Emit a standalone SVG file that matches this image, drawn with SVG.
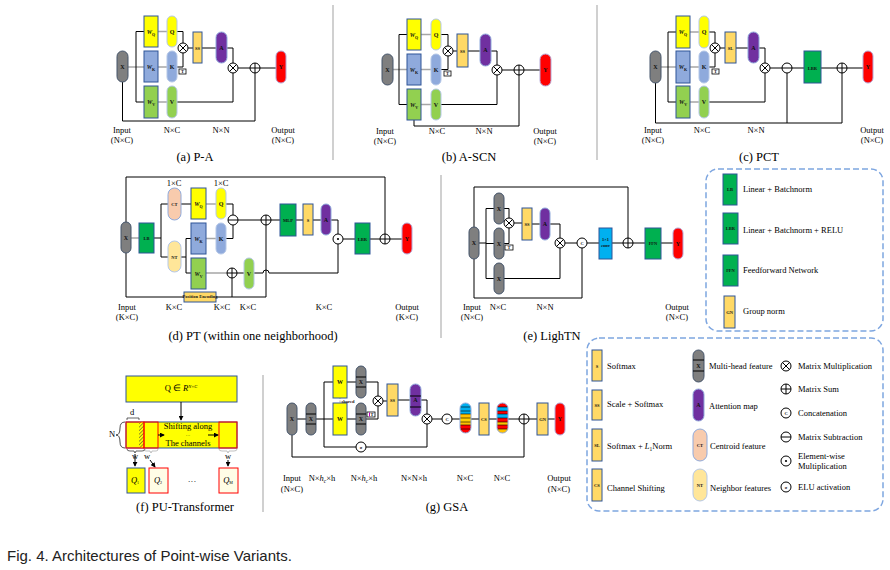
<svg xmlns="http://www.w3.org/2000/svg" width="890" height="570" viewBox="0 0 890 570">
<style>
.ln{fill:none;stroke:#000;stroke-width:1}
.gl{fill:none;stroke:#a6a6a6;stroke-width:1.5}
.t{font-family:"Liberation Serif",serif;font-size:8.5px;fill:#000;text-anchor:middle}
.lt{font-family:"Liberation Serif",serif;font-size:8.5px;fill:#000}
.cap{font-family:"Liberation Serif",serif;font-size:12.5px;fill:#000;text-anchor:middle}
.nl{font-family:"Liberation Serif",serif;font-size:6px;font-weight:bold;fill:#111;text-anchor:middle}
.sm{font-family:"Liberation Serif",serif;font-size:4.5px;font-weight:bold;fill:#111;text-anchor:middle}
.gray{fill:#7f7f7f;stroke:#44546a;stroke-width:1}
.yel{fill:#ffff00;stroke:#2f5597;stroke-width:1}
.ylp{fill:#ffff00;stroke:#b4c7e7;stroke-width:1}
.blu{fill:#8faadc;stroke:#2f5597;stroke-width:1}
.blp{fill:#8faadc;stroke:#b4c7e7;stroke-width:1}
.grn{fill:#92d050;stroke:#2f5597;stroke-width:1}
.grp{fill:#92d050;stroke:#b4c7e7;stroke-width:1}
.org{fill:#ffd966;stroke:#2f5597;stroke-width:1}
.pur{fill:#7030a0;stroke:#8faadc;stroke-width:1}
.red{fill:#ff0000;stroke:#b4a7d6;stroke-width:1}
.dg{fill:#00b050;stroke:#2f5597;stroke-width:1}
.ct{fill:#f8cbad;stroke:#8faadc;stroke-width:1}
.nt{fill:#ffe699;stroke:#b4c7e7;stroke-width:1}
.op{fill:#fff;stroke:#000;stroke-width:1}
.sep{stroke:#c0c0c0;stroke-width:1.5}
.dash{fill:none;stroke:#7ea6e0;stroke-width:1.5;stroke-dasharray:6 3}
.tb{fill:#fff;stroke:#000;stroke-width:0.8}
</style>
<defs>
<g id="mul"><circle r="5" class="op"/><path d="M-3.5,-3.5L3.5,3.5M-3.5,3.5L3.5,-3.5" class="ln"/></g>
<g id="sum"><circle r="5" class="op"/><path d="M-5,0H5M0,-5V5" class="ln"/></g>
<g id="sub"><circle r="5" class="op"/><path d="M-5,0H5" class="ln"/></g>
<g id="dot"><circle r="5" class="op"/><circle r="1.1" fill="#000"/></g>
<g id="cat"><circle r="5" class="op"/><text y="2.3" class="sm" font-size="6px">C</text></g>
<g id="elu"><circle r="5" class="op"/><text y="2" class="sm" font-size="6.5px">σ</text></g>
<marker id="ar" viewBox="0 0 6 6" refX="5" refY="3" markerWidth="5" markerHeight="5" orient="auto"><path d="M0,0L6,3L0,6z" fill="#000"/></marker>
<pattern id="hatch" width="2.5" height="2.5" patternUnits="userSpaceOnUse" patternTransform="rotate(45)"><rect width="2.5" height="2.5" fill="#ffff00"/><line x1="0" y1="0" x2="0" y2="2.5" stroke="#333" stroke-width="1"/></pattern>
<clipPath id="pill1"><rect x="460" y="403" width="11" height="30" rx="5.5"/></clipPath>
<clipPath id="pill2"><rect x="497" y="403" width="11" height="30" rx="5.5"/></clipPath>
</defs>

<!-- separators -->
<g id="separators">
<line x1="333" y1="5" x2="333" y2="160" class="sep"/>
<line x1="597" y1="5" x2="597" y2="160" class="sep"/>
<line x1="441" y1="175" x2="441" y2="338" class="sep"/>
<line x1="263" y1="375" x2="263" y2="512" class="sep"/>
</g>

<!-- ============ (a) P-A ============ -->
<g id="a-connectors">
<path d="M128,67H144M158,31.5H167M158,67H167M158,102H167" class="gl"/>
<path d="M136,31.5V102M136,31.5H144M136,102H144M177,31.5H183V43M177,67H183V53M188,48H193M202,48H216M227,48H233V63M177,102H233V73M238,68H250M260,68H276M122.5,82V121H255V73" class="ln"/>
</g>
<g id="a-X"><rect x="117" y="51" width="11" height="31" rx="5.5" class="gray"/><text x="122.5" y="69" class="nl">X</text></g>
<g id="a-WQ"><rect x="144" y="16" width="14" height="31" class="yel"/><text x="151" y="34" class="nl"><tspan font-style="italic">W</tspan><tspan font-size="4" dy="1.5">Q</tspan></text></g>
<g id="a-Q"><rect x="167" y="16" width="10" height="31" rx="5" class="ylp"/><text x="172" y="34" class="nl">Q</text></g>
<g id="a-WK"><rect x="144" y="51" width="14" height="31" class="blu"/><text x="151" y="69" class="nl"><tspan font-style="italic">W</tspan><tspan font-size="4" dy="1.5">K</tspan></text></g>
<g id="a-K"><rect x="167" y="51" width="10" height="31" rx="5" class="blp"/><text x="172" y="69" class="nl">K</text></g>
<g id="a-WV"><rect x="144" y="86" width="14" height="32" class="grn"/><text x="151" y="104" class="nl"><tspan font-style="italic">W</tspan><tspan font-size="4" dy="1.5">V</tspan></text></g>
<g id="a-V"><rect x="167" y="86" width="10" height="32" rx="5" class="grp"/><text x="172" y="104" class="nl">V</text></g>
<g id="a-T"><rect x="179" y="69" width="7" height="5" class="tb"/><text x="182.5" y="73.3" class="sm">T</text></g>
<g id="a-mul1"><use href="#mul" x="183" y="48"/></g>
<g id="a-SS"><rect x="193" y="32" width="9" height="31" class="org"/><text x="197.5" y="50" class="sm">SS</text></g>
<g id="a-A"><rect x="216" y="32" width="11" height="31" rx="5.5" class="pur"/><text x="221.5" y="50" class="nl">A</text></g>
<g id="a-mul2"><use href="#mul" x="233" y="68"/></g>
<g id="a-sum"><use href="#sum" x="255" y="68"/></g>
<g id="a-Y"><rect x="276" y="51" width="10" height="32" rx="5" class="red"/><text x="281" y="69" class="nl">Y</text></g>
<g id="a-labels">
<text x="122" y="133" class="t">Input</text><text x="122" y="143" class="t">(N×C)</text>
<text x="172" y="133" class="t">N×C</text><text x="221" y="133" class="t">N×N</text>
<text x="283" y="133" class="t">Output</text><text x="283" y="143" class="t">(N×C)</text>
<text x="195" y="161" class="cap">(a) P-A</text>
</g>

<!-- ============ (b) A-SCN ============ -->
<g id="b-connectors">
<path d="M393,69.5H407M421,34.5H431M421,69.5H431M421,104.5H431" class="gl"/>
<path d="M399,34.5V104.5M399,34.5H407M399,104.5H407M441,34.5H448V46M441,69.5H448V56M453,51H457M468,51H480M491,51H497V65M441,104.5H497V75M502,70H514M524,70H540M414,120V126H519V75" class="ln"/>
</g>
<g id="b-X"><rect x="382" y="54" width="11" height="31" rx="5.5" class="gray"/><text x="387.5" y="71.5" class="nl">X</text></g>
<g id="b-WQ"><rect x="407" y="19" width="14" height="31" class="yel"/><text x="414" y="37" class="nl"><tspan font-style="italic">W</tspan><tspan font-size="4" dy="1.5">Q</tspan></text></g>
<g id="b-Q"><rect x="431" y="19" width="10" height="31" rx="5" class="ylp"/><text x="436" y="37" class="nl">Q</text></g>
<g id="b-WK"><rect x="407" y="54" width="14" height="31" class="blu"/><text x="414" y="72" class="nl"><tspan font-style="italic">W</tspan><tspan font-size="4" dy="1.5">K</tspan></text></g>
<g id="b-K"><rect x="431" y="54" width="10" height="31" rx="5" class="blp"/><text x="436" y="72" class="nl">K</text></g>
<g id="b-WV"><rect x="407" y="89" width="14" height="31" class="grn"/><text x="414" y="107" class="nl"><tspan font-style="italic">W</tspan><tspan font-size="4" dy="1.5">V</tspan></text></g>
<g id="b-V"><rect x="431" y="89" width="10" height="31" rx="5" class="grp"/><text x="436" y="107" class="nl">V</text></g>
<g id="b-T"><rect x="444" y="71" width="7" height="5" class="tb"/><text x="447.5" y="75.3" class="sm">T</text></g>
<g id="b-mul1"><use href="#mul" x="448" y="51"/></g>
<g id="b-SS"><rect x="457" y="34" width="11" height="33" class="org"/><text x="462.5" y="52.5" class="sm">SS</text></g>
<g id="b-A"><rect x="480" y="34" width="11" height="32" rx="5.5" class="pur"/><text x="485.5" y="52" class="nl">A</text></g>
<g id="b-mul2"><use href="#mul" x="497" y="70"/></g>
<g id="b-sum"><use href="#sum" x="519" y="70"/></g>
<g id="b-Y"><rect x="540" y="54" width="11" height="32" rx="5.5" class="red"/><text x="545.5" y="72" class="nl">Y</text></g>
<g id="b-labels">
<text x="385" y="134" class="t">Input</text><text x="385" y="144" class="t">(N×C)</text>
<text x="437" y="134" class="t">N×C</text><text x="484" y="134" class="t">N×N</text>
<text x="545" y="134" class="t">Output</text><text x="545" y="144" class="t">(N×C)</text>
<text x="469" y="161" class="cap">(b) A-SCN</text>
</g>

<!-- ============ (c) PCT ============ -->
<g id="c-connectors">
<path d="M661,67H676M690,32H699M690,67H699M690,102H699" class="gl"/>
<path d="M668,32V102M668,32H676M668,102H676M709,32H715V43M709,67H715V53M720,48H725M736,48H748M759,48H765V63M709,102H765V73M770,68H782M792,68H804M821,68H837M847,68H863M655.5,83V123H842V73M787,123V73" class="ln"/>
</g>
<g id="c-X"><rect x="650" y="51" width="11" height="32" rx="5.5" class="gray"/><text x="655.5" y="69" class="nl">X</text></g>
<g id="c-WQ"><rect x="676" y="16" width="14" height="32" class="yel"/><text x="683" y="34" class="nl"><tspan font-style="italic">W</tspan><tspan font-size="4" dy="1.5">Q</tspan></text></g>
<g id="c-Q"><rect x="699" y="16" width="10" height="32" rx="5" class="ylp"/><text x="704" y="34" class="nl">Q</text></g>
<g id="c-WK"><rect x="676" y="51" width="14" height="32" class="blu"/><text x="683" y="69" class="nl"><tspan font-style="italic">W</tspan><tspan font-size="4" dy="1.5">K</tspan></text></g>
<g id="c-K"><rect x="699" y="51" width="10" height="32" rx="5" class="blp"/><text x="704" y="69" class="nl">K</text></g>
<g id="c-WV"><rect x="676" y="86" width="14" height="32" class="grn"/><text x="683" y="104" class="nl"><tspan font-style="italic">W</tspan><tspan font-size="4" dy="1.5">V</tspan></text></g>
<g id="c-V"><rect x="699" y="86" width="10" height="32" rx="5" class="grp"/><text x="704" y="104" class="nl">V</text></g>
<g id="c-T"><rect x="712" y="69" width="7" height="5" class="tb"/><text x="715.5" y="73.3" class="sm">T</text></g>
<g id="c-mul1"><use href="#mul" x="715" y="48"/></g>
<g id="c-SL"><rect x="725" y="32" width="11" height="31" class="org"/><text x="730.5" y="50" class="sm">SL</text></g>
<g id="c-A"><rect x="748" y="32" width="11" height="31" rx="5.5" class="pur"/><text x="753.5" y="50" class="nl">A</text></g>
<g id="c-mul2"><use href="#mul" x="765" y="68"/></g>
<g id="c-sub"><use href="#sub" x="787" y="68"/></g>
<g id="c-LBR"><rect x="804" y="51" width="17" height="32" class="dg"/><text x="812.5" y="69.5" class="sm">LBR</text></g>
<g id="c-sum"><use href="#sum" x="842" y="68"/></g>
<g id="c-Y"><rect x="863" y="51" width="10" height="32" rx="5" class="red"/><text x="868" y="69" class="nl">Y</text></g>
<g id="c-labels">
<text x="653" y="133" class="t">Input</text><text x="653" y="143" class="t">(N×C)</text>
<text x="702" y="133" class="t">N×C</text><text x="756" y="133" class="t">N×N</text>
<text x="872" y="133" class="t">Output</text><text x="872" y="143" class="t">(N×C)</text>
<text x="759" y="161" class="cap">(c) PCT</text>
</g>

<!-- ============ (d) PT ============ -->
<g id="d-connectors">
<path d="M131,238H139M206,204H216M206,238.5H216M206,273H227" class="gl"/>
<path d="M154,238H161M161,204V257M161,204H168M161,257H168M181,204H191M226,204H233V215M226,238.5H233V225M181,257H186M186,238.5V273M186,238.5H191M186,273H191M237,273H244M254,273H263A3,3 0 0 1 269,273H338V244M238,220H261M271,220H280M296,220H303M313,220H321M331,220H338V234M343,239H355M370,239H380M390,239H402M126,222V177H385V234M126,253V297H266V225M232,278V297" class="ln"/>
</g>
<g id="d-X"><rect x="121" y="222" width="10" height="31" rx="5" class="gray"/><text x="126" y="240" class="nl">X</text></g>
<g id="d-LB"><rect x="139" y="223" width="15" height="30" class="dg"/><text x="146.5" y="240" class="sm">LB</text></g>
<g id="d-CT"><rect x="168" y="188" width="13" height="32" rx="6.5" class="ct"/><text x="174.5" y="206" class="sm">CT</text></g>
<g id="d-NT"><rect x="168" y="241" width="13" height="31" rx="6.5" class="nt"/><text x="174.5" y="258.5" class="sm">NT</text></g>
<g id="d-WQ"><rect x="191" y="188" width="15" height="31" class="yel"/><text x="198.5" y="206" class="nl"><tspan font-style="italic">W</tspan><tspan font-size="4" dy="1.5">Q</tspan></text></g>
<g id="d-Q"><rect x="216" y="188" width="10" height="31" rx="5" class="ylp"/><text x="221" y="206" class="nl">Q</text></g>
<g id="d-WK"><rect x="191" y="223" width="15" height="31" class="blu"/><text x="198.5" y="241" class="nl"><tspan font-style="italic">W</tspan><tspan font-size="4" dy="1.5">K</tspan></text></g>
<g id="d-K"><rect x="216" y="223" width="10" height="31" rx="5" class="blp"/><text x="221" y="241" class="nl">K</text></g>
<g id="d-WV"><rect x="191" y="258" width="15" height="31" class="grn"/><text x="198.5" y="276" class="nl"><tspan font-style="italic">W</tspan><tspan font-size="4" dy="1.5">V</tspan></text></g>
<g id="d-V"><rect x="244" y="258" width="10" height="31" rx="5" class="grp"/><text x="249" y="275.5" class="nl">V</text></g>
<g id="d-sub"><use href="#sub" x="233" y="220"/></g>
<g id="d-sumv"><use href="#sum" x="232" y="273"/></g>
<g id="d-PE"><rect x="184" y="292" width="32" height="10" class="org"/><text x="200" y="298.3" class="sm" font-size="3.4px">Position Encoding</text></g>
<g id="d-sum1"><use href="#sum" x="266" y="220"/></g>
<g id="d-MLP"><rect x="280" y="204" width="16" height="32" class="dg"/><text x="288" y="222" class="sm">MLP</text></g>
<g id="d-S"><rect x="303" y="204" width="10" height="31" class="org"/><text x="308" y="221.5" class="sm">S</text></g>
<g id="d-A"><rect x="321" y="204" width="10" height="31" rx="5" class="pur"/><text x="326" y="221.5" class="nl">A</text></g>
<g id="d-dot"><use href="#dot" x="338" y="239"/></g>
<g id="d-LBR"><rect x="355" y="223" width="15" height="31" class="dg"/><text x="362.5" y="240.5" class="sm">LBR</text></g>
<g id="d-sum2"><use href="#sum" x="385" y="239"/></g>
<g id="d-Y"><rect x="402" y="223" width="10" height="31" rx="5" class="red"/><text x="407" y="241" class="nl">Y</text></g>
<g id="d-labels">
<text x="174" y="186" class="t" font-size="8px">1×C</text><text x="221" y="186" class="t" font-size="8px">1×C</text>
<text x="127" y="310" class="t">Input</text><text x="127" y="320" class="t">(K×C)</text>
<text x="174" y="310" class="t">K×C</text><text x="222" y="310" class="t">K×C</text><text x="248" y="310" class="t">K×C</text><text x="324" y="310" class="t">K×C</text>
<text x="407" y="310" class="t">Output</text><text x="407" y="320" class="t">(K×C)</text>
<text x="253" y="340" class="cap">(d) PT (within one neighborhood)</text>
</g>

<!-- ============ (e) LighTN ============ -->
<g id="e-connectors">
<path d="M474,227V187H628V238M479,243H486M486,208.5V278.5M486,208.5H494M486,243.5H494M486,278.5H494M504,208.5H509V218M504,243.5H509V228M514,223H522M532,224H540M550,224H560V238M504,278.5H560V248M565,243H577M587,243H599M612,243H623M633,243H645M661,243H673M474,259V298H582V248" class="ln"/>
</g>
<g id="e-Xin"><rect x="469" y="227" width="10" height="32" rx="5" class="gray"/><text x="474" y="245" class="nl">X</text></g>
<g id="e-X1"><rect x="494" y="193" width="10" height="31" rx="5" class="gray"/><text x="499" y="210.5" class="nl">X</text></g>
<g id="e-X2"><rect x="494" y="228" width="10" height="31" rx="5" class="gray"/><text x="499" y="245.5" class="nl">X</text></g>
<g id="e-X3"><rect x="494" y="263" width="10" height="31" rx="5" class="gray"/><text x="499" y="280.5" class="nl">X</text></g>
<g id="e-mul1"><use href="#mul" x="509" y="223"/></g>
<g id="e-T"><rect x="505" y="245" width="8" height="5" class="tb"/><text x="509" y="249.3" class="sm">T</text></g>
<g id="e-SS"><rect x="522" y="208" width="10" height="32" class="org"/><text x="527" y="226" class="sm">SS</text></g>
<g id="e-A"><rect x="540" y="208" width="10" height="32" rx="5" class="pur"/><text x="545" y="226" class="nl">A</text></g>
<g id="e-mul2"><use href="#mul" x="560" y="243"/></g>
<g id="e-cat"><use href="#cat" x="582" y="243"/></g>
<g id="e-conv"><rect x="599" y="228" width="13" height="31" fill="#00b0f0" stroke="#2f5597"/><text x="605.5" y="241" class="sm">1×1</text><text x="605.5" y="247" class="sm" font-size="3.5px">conv</text></g>
<g id="e-sum"><use href="#sum" x="628" y="243"/></g>
<g id="e-FFN"><rect x="645" y="228" width="16" height="31" class="dg"/><text x="653" y="245" class="sm">FFN</text></g>
<g id="e-Y"><rect x="673" y="228" width="10" height="31" rx="5" class="red"/><text x="678" y="245.5" class="nl">Y</text></g>
<g id="e-labels">
<text x="472" y="310" class="t">Input</text><text x="472" y="320" class="t">(N×C)</text>
<text x="498" y="310" class="t">N×C</text><text x="545" y="310" class="t">N×N</text>
<text x="677" y="310" class="t">Output</text><text x="677" y="320" class="t">(N×C)</text>
<text x="552" y="340" class="cap">(e) LighTN</text>
</g>

<!-- ============ Legend 1 ============ -->
<g id="legend1">
<rect x="706" y="169" width="177" height="162" rx="12" class="dash"/>
<g id="lg-LB"><rect x="723" y="174" width="14" height="31" class="dg"/><text x="730" y="191" class="sm">LB</text><text x="743" y="192" class="lt">Linear + Batchnorm</text></g>
<g id="lg-LBR"><rect x="723" y="213" width="15" height="31" class="dg"/><text x="730.5" y="230" class="sm">LBR</text><text x="743" y="233" class="lt">Linear + Batchnorm + RELU</text></g>
<g id="lg-FFN"><rect x="723" y="255" width="15" height="31" class="dg"/><text x="730.5" y="272" class="sm">FFN</text><text x="743" y="273" class="lt">Feedforward Network</text></g>
<g id="lg-GN"><rect x="724" y="296" width="11" height="32" class="org"/><text x="729.5" y="313.5" class="sm">GN</text><text x="743" y="314" class="lt">Group norm</text></g>
</g>

<!-- ============ (f) PU-Transformer ============ -->
<g id="f-Qbox"><rect x="126" y="376" width="111" height="26" class="yel"/><text x="181" y="391" class="t" font-size="7px">Q ∈ <tspan font-style="italic">R</tspan><tspan font-size="4.5px" dy="-3" font-style="italic">N×C</tspan></text></g>
<g id="f-strip">
<rect x="126" y="422" width="111" height="26" class="yel"/>
<rect x="139" y="422" width="5" height="26" fill="url(#hatch)"/>
<rect x="126" y="422" width="18" height="26" fill="none" stroke="#ff0000" stroke-width="1"/>
<rect x="144" y="422" width="14" height="26" fill="none" stroke="#ff0000" stroke-width="1"/>
<rect x="219" y="422" width="18" height="26" fill="none" stroke="#ff0000" stroke-width="1"/>
<text x="188" y="429" class="t" font-size="5.2px"><tspan>Shifting along</tspan><tspan x="188" dy="7.5" font-size="4.5px">···</tspan><tspan x="188" dy="9">The channels</tspan></text>
</g>
<g id="f-connectors">
<path d="M181,402V420" class="ln" marker-end="url(#ar)"/>
<path d="M158,435H164" class="ln" marker-end="url(#ar)"/>
<path d="M208,435H218" class="ln" marker-end="url(#ar)"/>
<path d="M135,454V466" class="ln" marker-end="url(#ar)"/>
<path d="M150,460L155,467" class="ln" marker-end="url(#ar)"/>
<path d="M228,460V466" class="ln" marker-end="url(#ar)"/>
<path d="M127,420V418H139V420" fill="none" stroke="#000" stroke-width="0.6"/>
<path d="M125,422Q120,422 120,428Q120,435 116,435Q120,435 120,442Q120,448 125,448" fill="none" stroke="#000" stroke-width="0.7"/>
<path d="M127,449Q127,451 130,451H134L135,453L136,451H142Q145,451 145,449" fill="none" stroke="#000" stroke-width="0.6"/>
<path d="M144,449Q144,451 146,451H150L151,453L152,451H156Q158,451 158,449" fill="none" stroke="#999" stroke-width="0.6"/>
<path d="M219,449Q219,451 222,451H227L228,453L229,451H234Q237,451 237,449" fill="none" stroke="#999" stroke-width="0.6"/>
</g>
<g id="f-labels">
<text x="132" y="415" class="t" font-size="6px">d</text>
<text x="112" y="437" class="t" font-size="6px">N</text>
<text x="135" y="459" class="t" font-size="5.5px">w</text>
<text x="147" y="459" class="t" font-size="5.5px" fill="#777">w</text>
<text x="228" y="459" class="t" font-size="5.5px" fill="#777">w</text>
</g>
<g id="f-Q1"><rect x="127" y="468" width="18" height="25" class="yel" stroke="#ff0000"/><text x="135" y="483" class="t" font-size="6px"><tspan font-style="italic">Q</tspan><tspan font-size="4px" dy="1">1</tspan></text></g>
<g id="f-Q2"><rect x="149" y="468" width="19" height="25" fill="#fffde6" stroke="#ff0000"/><text x="158" y="483" class="t" font-size="6px"><tspan font-style="italic">Q</tspan><tspan font-size="4px" dy="1">2</tspan></text></g>
<text x="192" y="484" class="t" font-size="7px">···</text>
<g id="f-QM"><rect x="219" y="468" width="19" height="25" fill="#fffde6" stroke="#ff0000"/><text x="228" y="483" class="t" font-size="6px"><tspan font-style="italic">Q</tspan><tspan font-size="4px" dy="1">M</tspan></text></g>
<text x="185" y="511" class="cap">(f) PU-Transformer</text>

<!-- ============ (g) GSA ============ -->
<g id="g-connectors">
<path d="M297,419H306M316,419H324M324,382V447M324,382H333M347,382H356M366,382H378V396M324,419H333M347,419H356M366,419H378V406M383,401H387M398,400H410M421,400H427V414M324,447H427V424M432,419H442M452,419H460M471,419H479M489,419H497M508,419H519M529,419H537M548,419H555M292,435V457H524V424" class="ln"/>
<path d="M340,390V432" fill="none" stroke="#a0a0a0" stroke-width="0.8" stroke-dasharray="2 1.5"/>
</g>
<g id="g-Xin"><rect x="287" y="403" width="10" height="32" rx="5" class="gray"/><text x="292" y="421" class="nl">X</text></g>
<g id="g-MH"><rect x="306" y="403" width="10" height="32" rx="5" class="gray"/><path d="M306,414H316M306,424H316" class="ln"/><text x="311" y="421" class="nl">X</text></g>
<g id="g-W1"><rect x="333" y="366" width="14" height="32" class="yel"/><text x="340" y="384" class="nl">W</text></g>
<g id="g-X1"><rect x="356" y="366" width="10" height="32" rx="5" class="gray"/><path d="M356,377H366M356,387H366" class="ln"/><text x="361" y="384" class="nl">X</text></g>
<g id="g-W2"><rect x="333" y="403" width="14" height="32" class="yel"/><text x="340" y="421" class="nl">W</text></g>
<g id="g-X2"><rect x="356" y="403" width="10" height="32" rx="5" class="gray"/><path d="M356,414H366M356,424H366" class="ln"/><text x="361" y="421" class="nl">X</text></g>
<text x="348" y="403" class="sm" font-size="3.5px" fill="#666" font-weight="normal">shared</text>
<g id="g-T"><rect x="367" y="412" width="8" height="5" class="tb"/><path d="M369.5,412.5V416.5" stroke="#c000c0" stroke-width="1"/><text x="372" y="416.3" class="sm">T</text></g>
<g id="g-mul1"><use href="#mul" x="378" y="401"/></g>
<g id="g-SS"><rect x="387" y="384" width="11" height="32" class="org"/><text x="392.5" y="402" class="sm">SS</text></g>
<g id="g-A"><rect x="410" y="384" width="11" height="32" rx="5.5" class="pur"/><path d="M410,396H421M410,407H421" class="ln"/><text x="415.5" y="402" class="nl">A</text></g>
<g id="g-mul2"><use href="#mul" x="427" y="419"/></g>
<g id="g-elu"><use href="#elu" x="361" y="447"/></g>
<g id="g-cat"><use href="#cat" x="447" y="419"/></g>
<g id="g-F1">
<g clip-path="url(#pill1)">
<rect x="460" y="403" width="11" height="4" fill="#00b0f0"/><rect x="460" y="407" width="11" height="4" fill="#00b0f0"/><rect x="460" y="411" width="11" height="3" fill="#00b0f0"/>
<rect x="460" y="414" width="11" height="4" fill="#ffc000"/><rect x="460" y="418" width="11" height="4" fill="#ffd000"/><rect x="460" y="422" width="11" height="3" fill="#ffc000"/>
<rect x="460" y="425" width="11" height="4" fill="#ff0000"/><rect x="460" y="429" width="11" height="4" fill="#ff0000"/>
<path d="M460,407H471M460,411H471M460,414H471M460,418H471M460,422H471M460,425H471M460,429H471" stroke="#000" stroke-width="0.6"/>
</g>
<rect x="460" y="403" width="11" height="30" rx="5.5" fill="none" stroke="#8faadc"/>
</g>
<g id="g-CS"><rect x="479" y="403" width="10" height="32" class="org"/><text x="484" y="421" class="sm">CS</text></g>
<g id="g-F2">
<g clip-path="url(#pill2)">
<rect x="497" y="403" width="11" height="4" fill="#ff0000"/><rect x="497" y="407" width="11" height="4" fill="#00b0f0"/><rect x="497" y="411" width="11" height="3" fill="#ff0000"/>
<rect x="497" y="414" width="11" height="4" fill="#00b0f0"/><rect x="497" y="418" width="11" height="4" fill="#ff0000"/><rect x="497" y="422" width="11" height="3" fill="#ffc000"/>
<rect x="497" y="425" width="11" height="4" fill="#ff0000"/><rect x="497" y="429" width="11" height="4" fill="#ffc000"/>
<path d="M497,407H508M497,411H508M497,414H508M497,418H508M497,422H508M497,425H508M497,429H508" stroke="#000" stroke-width="0.6"/>
</g>
<rect x="497" y="403" width="11" height="30" rx="5.5" fill="none" stroke="#8faadc"/>
</g>
<g id="g-sum"><use href="#sum" x="524" y="419"/></g>
<g id="g-GN"><rect x="537" y="403" width="11" height="32" class="org"/><text x="542.5" y="421" class="sm">GN</text></g>
<g id="g-Y"><rect x="555" y="403" width="10" height="32" rx="5" class="red"/><text x="560" y="421" class="nl">Y</text></g>
<g id="g-labels">
<text x="292" y="481" class="t">Input</text><text x="292" y="492" class="t">(N×C)</text>
<text x="322" y="481" class="t">N×<tspan font-style="italic">h</tspan><tspan font-size="5.5px" dy="1.5" font-style="italic">c</tspan><tspan dy="-1.5">×h</tspan></text>
<text x="364" y="481" class="t">N×<tspan font-style="italic">h</tspan><tspan font-size="5.5px" dy="1.5" font-style="italic">c</tspan><tspan dy="-1.5">×h</tspan></text>
<text x="414" y="481" class="t">N×N×h</text>
<text x="465" y="481" class="t">N×C</text><text x="502" y="481" class="t">N×C</text>
<text x="559" y="481" class="t">Output</text><text x="559" y="492" class="t">(N×C)</text>
<text x="447" y="511" class="cap">(g) GSA</text>
</g>

<!-- ============ Legend 2 ============ -->
<g id="legend2">
<rect x="587" y="338" width="296" height="173" rx="12" class="dash"/>
<g id="lg-S"><rect x="592" y="350" width="10" height="31" class="org"/><text x="597" y="367.5" class="sm">S</text><text x="607" y="369" class="lt">Softmax</text></g>
<g id="lg-SS"><rect x="592" y="390" width="10" height="30" class="org"/><text x="597" y="407" class="sm">SS</text><text x="607" y="407" class="lt">Scale + Softmax</text></g>
<g id="lg-SL"><rect x="592" y="429" width="10" height="32" class="org"/><text x="597" y="447" class="sm">SL</text><text x="607" y="449" class="lt">Softmax + <tspan font-style="italic">L</tspan><tspan font-size="5.5px" dy="1.5">1</tspan><tspan dy="-1.5">Norm</tspan></text></g>
<g id="lg-CS"><rect x="592" y="469" width="10" height="32" class="org"/><text x="597" y="487" class="sm">CS</text><text x="607" y="491" class="lt">Channel Shifting</text></g>
<g id="lg-MH"><rect x="693" y="350" width="11" height="32" rx="5.5" class="gray"/><path d="M693,360H704M693,371H704" class="ln"/><text x="698.5" y="368" class="nl">X</text><text x="709" y="369" class="lt">Multi-head feature</text></g>
<g id="lg-A"><rect x="693" y="389" width="11" height="32" rx="5.5" class="pur"/><text x="698.5" y="407" class="nl">A</text><text x="709" y="409" class="lt">Attention map</text></g>
<g id="lg-CT"><rect x="693" y="429" width="14" height="32" rx="7" class="ct"/><text x="700" y="447" class="sm">CT</text><text x="710" y="449" class="lt">Centroid feature</text></g>
<g id="lg-NT"><rect x="693" y="469" width="14" height="32" rx="7" class="nt"/><text x="700" y="487" class="sm">NT</text><text x="710" y="491" class="lt">Neighbor features</text></g>
<g id="lg-mul"><use href="#mul" x="786" y="366"/><text x="798" y="369" class="lt">Matrix Multiplication</text></g>
<g id="lg-sum"><use href="#sum" x="786" y="389"/><text x="798" y="392" class="lt">Matrix Sum</text></g>
<g id="lg-cat"><use href="#cat" x="786" y="413"/><text x="798" y="416" class="lt">Concatenation</text></g>
<g id="lg-sub"><use href="#sub" x="786" y="437"/><text x="798" y="440" class="lt">Matrix Subtraction</text></g>
<g id="lg-dot"><use href="#dot" x="786" y="461"/><text x="798" y="459" class="lt">Element-wise</text><text x="798" y="469" class="lt">Multiplication</text></g>
<g id="lg-elu"><use href="#elu" x="786" y="487"/><text x="798" y="490" class="lt">ELU activation</text></g>
</g>

<text x="7" y="561" font-family="'Liberation Sans',Arial,sans-serif" font-size="15px" fill="#222">Fig. 4. Architectures of Point-wise Variants.</text>
</svg>
